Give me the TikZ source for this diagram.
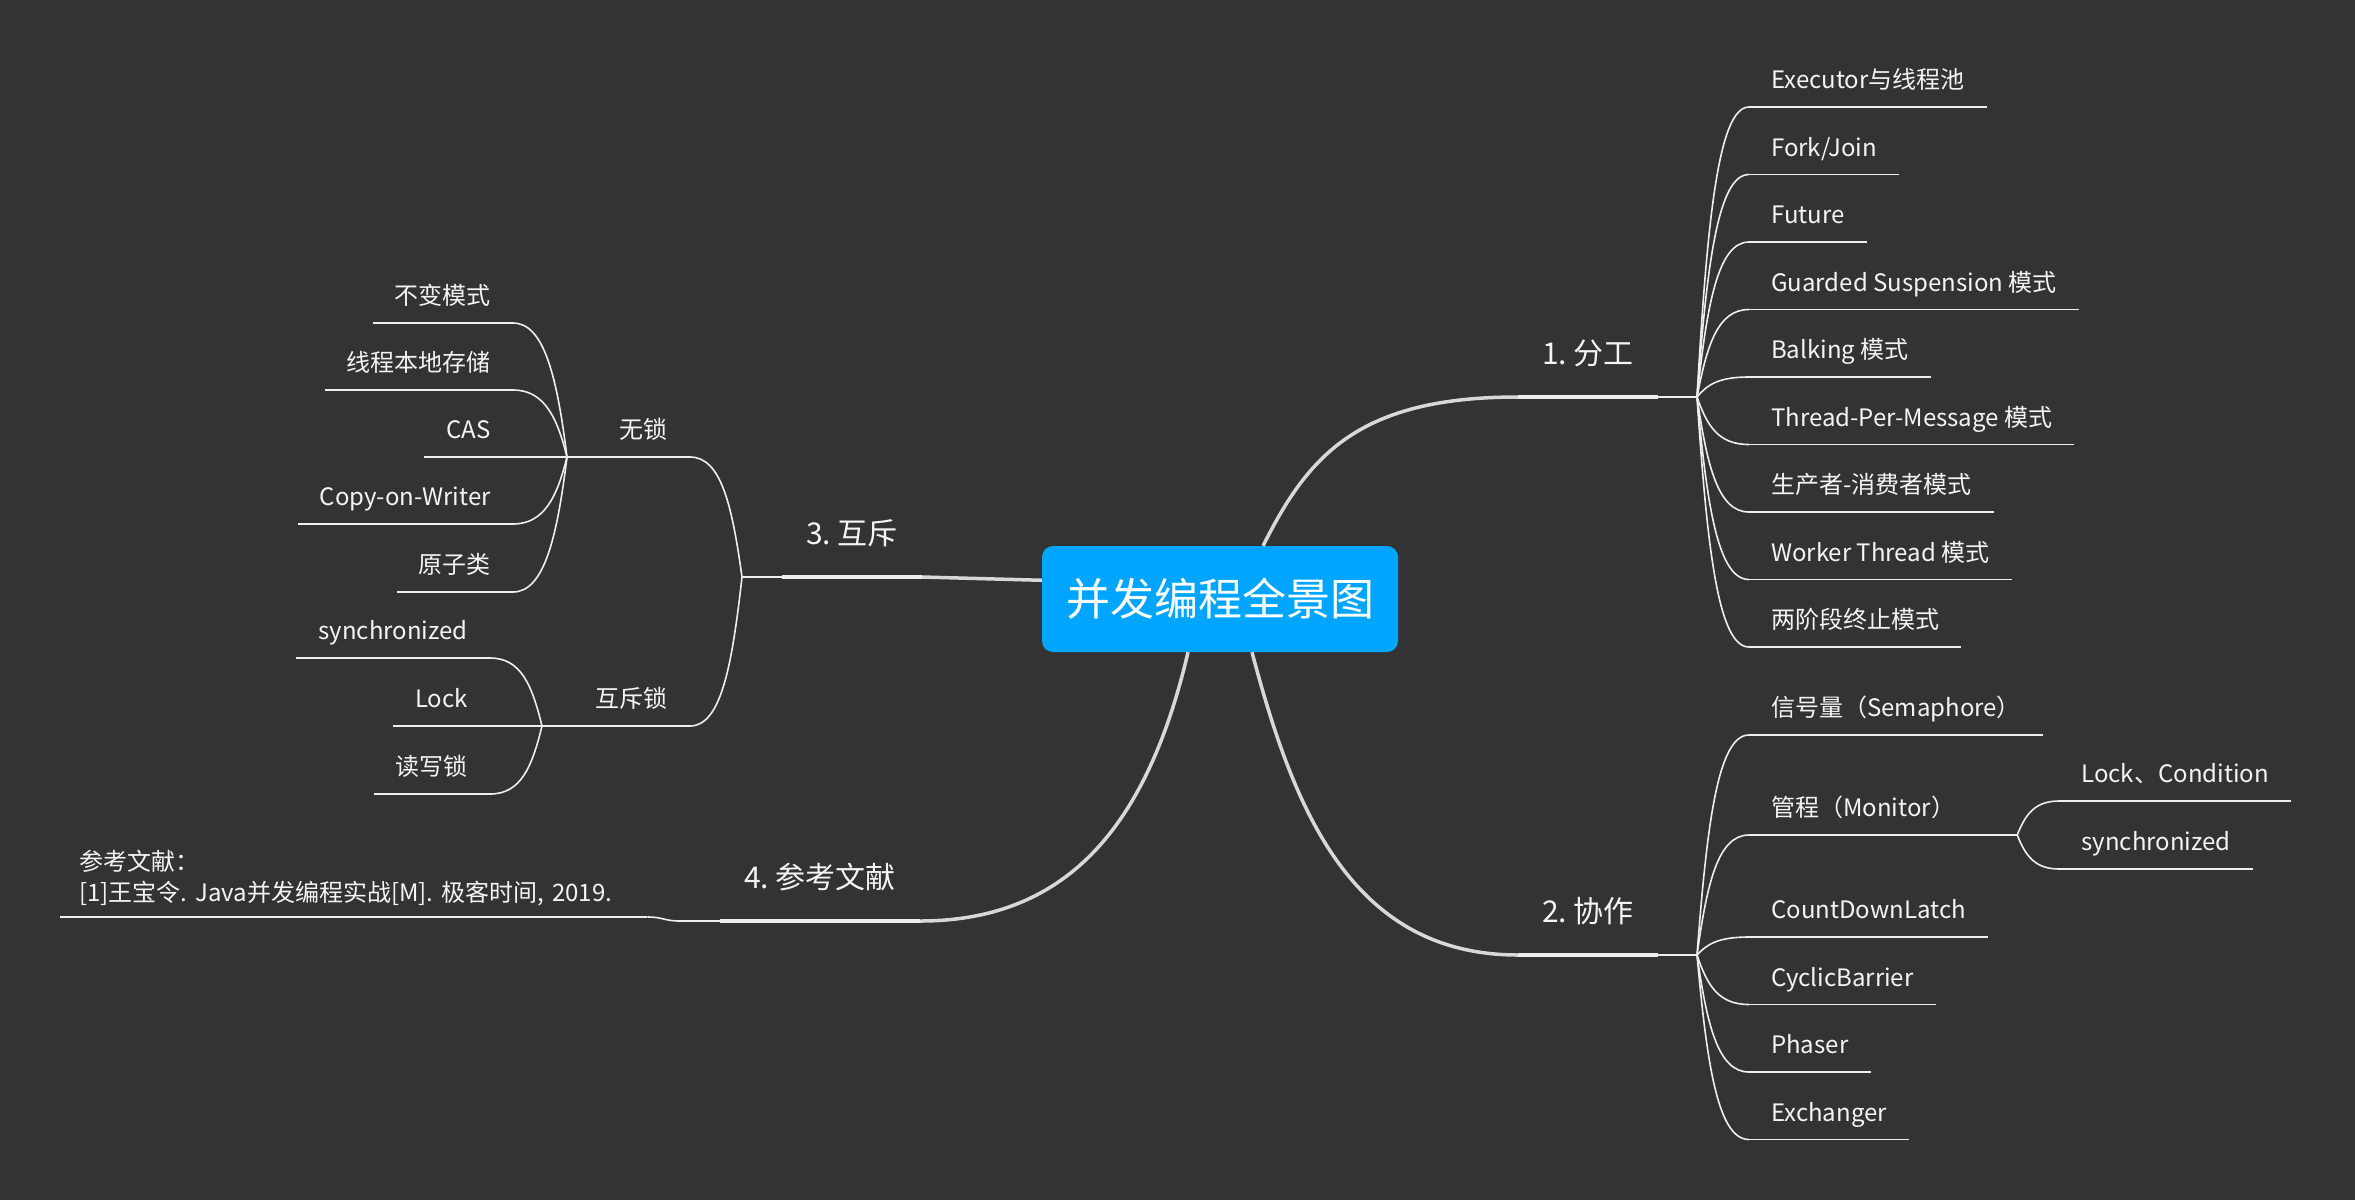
\documentclass[tikz,border=0pt]{standalone}
\usepackage{fontspec}
\setmainfont{Noto Sans CJK SC}
\usepackage{tikz}
\usetikzlibrary{positioning, calc}
\frenchspacing

\definecolor{fundo}{HTML}{333333}
\definecolor{caixa}{HTML}{00A5FF}
\definecolor{linha}{HTML}{EEEEEE}
\definecolor{ramolinha}{HTML}{D8D8D8}
\definecolor{texto}{HTML}{F4F4F4}

\begin{document}
\begin{tikzpicture}[x=1pt, y=-1pt,
  raiz/.style={fill=caixa, rounded corners=11pt, text=white, font=\fontsize{44}{52}\selectfont, minimum width=356pt, minimum height=106pt},
  ramo/.style={text=texto, font=\fontsize{30}{36}\selectfont, inner xsep=24pt, inner ysep=32pt, text height=22pt, text depth=0pt},
  folha/.style={text=texto, font=\fontsize{24}{31}\selectfont, inner xsep=22pt, inner ysep=18pt, text height=18pt, text depth=0pt},
  nota/.style={text=texto, font=\fontsize{24}{31}\selectfont, align=left, text width=549pt, inner xsep=19pt, inner ysep=11pt},
  grossa/.style={draw=ramolinha, line width=3.5pt},
  fina/.style={draw=linha, line width=1.6pt},
]
  % Fundo
  \useasboundingbox (0,0) rectangle (2355,1200);
  \fill[fundo] (0,0) rectangle (2355,1200);

  % Nó central
  \node[raiz] (raiz) at (1220,599) {并发编程全景图};

  % Ramos principais
  \node[ramo, anchor=south west] (divisao) at (1518,397) {1. 分工};
  \node[ramo, anchor=south west] (colab) at (1518,955) {2. 协作};
  \node[ramo, anchor=south east] (mutex) at (922,577) {3. 互斥};
  \node[ramo, anchor=south east] (refs) at (920,921) {4. 参考文献};
  \foreach \n in {divisao, colab, mutex, refs}
    \draw[grossa, draw=linha] (\n.south west) -- (\n.south east);

  % Ligações ao nó central
  \draw[grossa] (raiz.51) .. controls +(45,-90) and +(-160,0) .. (divisao.south west);
  \draw[grossa] (raiz.-59) .. controls +(40,150) and +(-170,0) .. (colab.south west);
  \draw[grossa] (raiz.174) -- (mutex.south east);
  \draw[grossa] (raiz.-121) .. controls +(-40,170) and +(150,0) .. (refs.south east);

  % Pontos de junção
  \coordinate (j1) at (1697,397);
  \coordinate (j2) at (1697,955);
  \coordinate (j3) at (742,577);
  \coordinate (j4) at (680,921);
  \draw[fina] (divisao.south east) -- (j1);
  \draw[fina] (colab.south east) -- (j2);
  \draw[fina] (mutex.south west) -- (j3);
  \draw[fina] (refs.south west) -- (j4);

  % 1. 分工
  \foreach \y/\rotulo [count=\i] in {107/Executor与线程池, 174.5/{Fork/Join}, 242/Future,
      309.5/Guarded Suspension 模式, 377/Balking 模式, 444.5/Thread-Per-Message 模式,
      512/生产者-消费者模式, 579.5/Worker Thread 模式, 647/两阶段终止模式} {
    \node[folha, anchor=south west] (d\i) at (1749,\y) {\rotulo};
    \draw[fina] (d\i.south west) -- (d\i.south east);
    \draw[fina] (j1) .. controls +(10,{0.6*(\y-397)}) and +(-31,0) .. (d\i.south west);
  }

  % 2. 协作
  \foreach \y/\rotulo [count=\i] in {735/信号量（Semaphore）, 835/管程（Monitor）, 937/CountDownLatch,
      1004.5/CyclicBarrier, 1072/Phaser, 1139.5/Exchanger} {
    \node[folha, anchor=south west] (c\i) at (1749,\y) {\rotulo};
    \draw[fina] (c\i.south west) -- (c\i.south east);
    \draw[fina] (j2) .. controls +(10,{0.6*(\y-955)}) and +(-31,0) .. (c\i.south west);
  }

  % Monitor
  \coordinate (jm) at ($(c2.south east)+(40,0)$);
  \draw[fina] (c2.south east) -- (jm);
  \node[folha, anchor=south west] (m1) at ($(jm)+(42,-34)$) {Lock、Condition};
  \node[folha, anchor=south west] (m2) at ($(jm)+(42,34)$) {synchronized};
  \draw[fina] (m1.south west) -- (m1.south east);
  \draw[fina] (m2.south west) -- (m2.south east);
  \draw[fina] (jm) .. controls +(8,-20) and +(-25,0) .. (m1.south west);
  \draw[fina] (jm) .. controls +(8,20) and +(-25,0) .. (m2.south west);

  % 3. 互斥
  \node[folha, anchor=south east] (wusuo) at (690,457) {无锁};
  \node[folha, anchor=south east] (huchi) at (690,726) {互斥锁};
  \coordinate (ja) at (567,457);
  \coordinate (jb) at (542,726);
  \foreach \n/\j in {wusuo/ja, huchi/jb} {
    \draw[fina] (\j) -- (\n.south east);
  }
  \draw[fina] (j3) .. controls +(-10,-72) and +(31,0) .. (wusuo.south east);
  \draw[fina] (j3) .. controls +(-10,89) and +(31,0) .. (huchi.south east);

  \foreach \y/\rotulo [count=\i] in {323/不变模式, 390/线程本地存储, 457/CAS, 524/Copy-on-Writer, 592/原子类} {
    \node[folha, anchor=south east] (a\i) at (513,\y) {\rotulo};
    \draw[fina] (a\i.south west) -- (a\i.south east);
    \draw[fina] (ja) .. controls +(-10,{0.6*(\y-457)}) and +(31,0) .. (a\i.south east);
  }
  \foreach \y/\rotulo [count=\i] in {658/synchronized, 726/Lock, 794/读写锁} {
    \node[folha, anchor=south east] (b\i) at (490,\y) {\rotulo};
    \draw[fina] (b\i.south west) -- (b\i.south east);
    \draw[fina] (jb) .. controls +(-10,{0.6*(\y-726)}) and +(31,0) .. (b\i.south east);
  }

  % 4. 参考文献
  \node[nota, anchor=south west] (nota) at (60,917) {参考文献：\\{}[1]王宝令. Java并发编程实战[M]. 极客时间, 2019.};
  \draw[fina] (nota.south west) -- (nota.south east);
  \draw[fina] (nota.south east) .. controls +(16,0) and +(-16,0) .. (j4);
\end{tikzpicture}
\end{document}
